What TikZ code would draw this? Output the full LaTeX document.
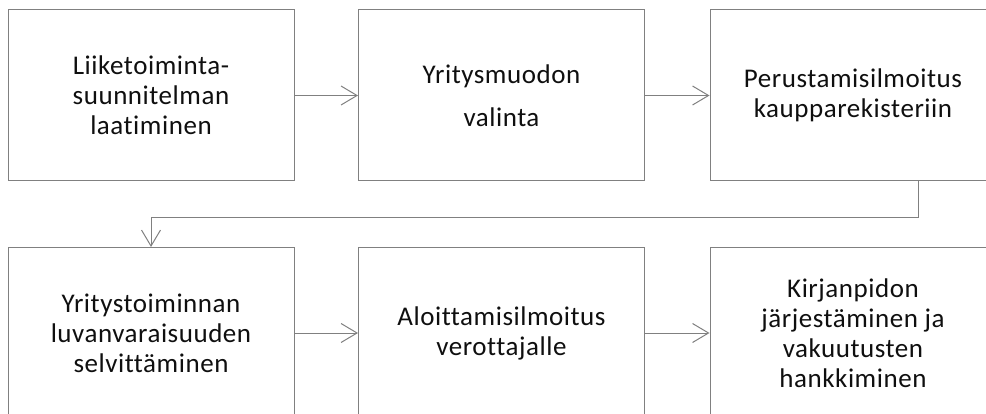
\documentclass[tikz,border=0pt]{standalone}
\usepackage{fontspec}
\setmainfont{Carlito}[LetterSpace=2,Ligatures=CommonOff]
\usetikzlibrary{arrows.meta}
\definecolor{linegray}{RGB}{128,128,128}
\definecolor{txt}{RGB}{15,15,15}
\tikzset{
  stepbox/.style={draw=linegray, line width=1pt, minimum width=286pt, minimum height=171pt,
    inner sep=0pt, align=center, text=txt, font=\fontsize{27pt}{30pt}\selectfont},
  arr/.style={draw=linegray, line width=1pt, -{Straight Barb[length=16pt,width=19pt,line width=1pt]}}
}
\begin{document}
\begin{tikzpicture}[x=1pt,y=-1pt]
\useasboundingbox (0,0) rectangle (986,414);
\clip (0,0) rectangle (986,414);
\node[stepbox] (b1) at (151,95.5) {Liiketoiminta-\\suunnitelman\\laatiminen};
\node[stepbox] (b2) at (501.5,95.5) {Yritysmuodon\\[13pt]valinta};
\node[stepbox] (b3) at (853,95.5) {Perustamisilmoitus\\kaupparekisteriin};
\node[stepbox] (b4) at (151,333) {Yritystoiminnan\\luvanvaraisuuden\\selvittäminen};
\node[stepbox] (b5) at (501.5,333) {Aloittamisilmoitus\\verottajalle};
\node[stepbox] (b6) at (853,333) {Kirjanpidon\\järjestäminen ja\\vakuutusten\\hankkiminen};
\coordinate (c1) at (918,218);
\draw[arr] (b1) -- (b2);
\draw[arr] (b2) -- (b3);
\draw[arr] (b3.south -| c1) |- (b4.north |- c1) -- (b4.north);
\draw[arr] (b4) -- (b5);
\draw[arr] (b5) -- (b6);
\end{tikzpicture}
\end{document}
